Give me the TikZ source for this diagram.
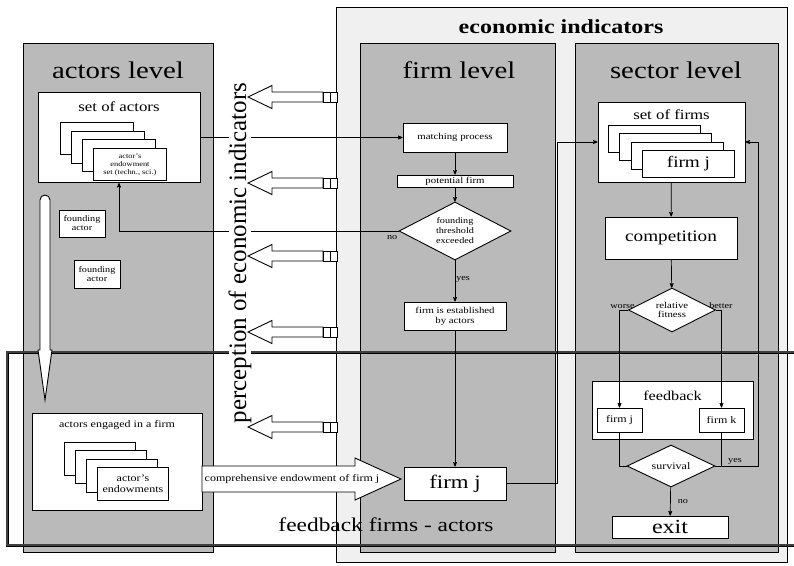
\documentclass[tikz,border=0pt]{standalone}
\usepackage{fontspec}
\setmainfont{Liberation Serif}[FakeStretch=1.2]
\newfontfamily\vertfont{Liberation Serif}
\usetikzlibrary{arrows,shapes.geometric,positioning}

\newcommand\fsz[2]{\fontsize{#1}{#2}\selectfont}

\begin{document}
\begin{tikzpicture}[x=1pt,y=-1pt,>=stealth',thick,
    level/.style={draw,line width=1pt,fill=black!27},
    flow box/.style={draw,line width=0.9pt,fill=white,inner sep=1pt,align=center},
    card/.style={flow box,anchor=north west},
    decision/.style={diamond,draw,line width=0.9pt,fill=white,inner sep=0pt,align=center,aspect=2},
    hollow/.style={draw,line width=0.9pt,fill=white},
    tag/.style={font=\fsz{8.5}{9},inner sep=1pt}]

    \useasboundingbox (0,0) rectangle (794,565);

    % economic indicators
    \draw[line width=1pt,fill=black!6] (336,7) rectangle (787,562);
    \node[font=\fsz{20}{22}\bfseries] (econ) at (561,27) {economic indicators};

    % the three levels
    \draw[level] (23,43) rectangle (213,552);
    \draw[level] (360,43) rectangle (555,552);
    \draw[level] (575,43) rectangle (778,552);
    \node[font=\fsz{24}{26}] (actlevel) at (118,70) {actors level};
    \node[font=\fsz{24}{26}] (firmlevel) at (459,70) {firm level};
    \node[font=\fsz{24}{26}] (seclevel) at (676,70) {sector level};

    % feedback firms - actors
    \draw[line width=0.9pt,double=black!75,double distance=1.2pt] (794,352) -- (7,352) -- (7,545) -- (794,545);
    \node[font=\fsz{19.5}{21}] (fbfa) at (386,525) {feedback firms - actors};

    % actors level
    \node[flow box,minimum width=162,minimum height=90] (setA) at (119,137.5) {};
    \node[font=\fsz{14}{16}] at (119,107) {set of actors};
    \foreach \i in {0,1,2}
        \node[card,minimum width=73,minimum height=32] at (60+11*\i,122+8.7*\i) {};
    \node[card,minimum width=73,minimum height=32,font=\fsz{7}{8}] (endowA) at (93,148) {actor's\\endowment\\set (techn., sci.)};

    \node[flow box,minimum width=46,minimum height=27,font=\fsz{8.5}{9}] (found1) at (82,223.5) {founding\\actor};
    \node[flow box,minimum width=46,minimum height=28,font=\fsz{8.5}{9}] (found2) at (97,274) {founding\\actor};

    \draw[hollow] (38,350) -- (40,350) [rounded corners=5pt] -- (40,195) -- (50,195) [sharp corners] -- (50,350) -- (52,350) -- (45,400) -- cycle;

    \node[flow box,minimum width=170,minimum height=97] (eng) at (117,461.5) {};
    \node[font=\fsz{10}{11}] at (117,425) {actors engaged in a firm};
    \foreach \i in {0,1,2}
        \node[card,minimum width=71,minimum height=33] at (64+11*\i,442+8.3*\i) {};
    \node[card,minimum width=71,minimum height=33,font=\fsz{10}{11}] (endowE) at (97,467) {actor's\\endowments};

    % firm level
    \node[flow box,minimum width=104,minimum height=29,font=\fsz{9}{10}] (match) at (455,137.5) {matching process};
    \node[flow box,minimum width=116,minimum height=12,inner sep=0pt,font=\fsz{9}{10}] (pot) at (455,181) {potential firm};
    \node[decision,minimum width=112,minimum height=58,font=\fsz{8.5}{10}] (thresh) at (455,231) {founding\\threshold\\exceeded};
    \node[flow box,minimum width=102,minimum height=28,font=\fsz{9}{10}] (est) at (455,316) {firm is established\\by actors};
    \node[flow box,minimum width=102,minimum height=33,font=\fsz{19}{20}] (firmj) at (455,483.5) {firm j};

    % sector level
    \node[flow box,minimum width=147,minimum height=80] (setF) at (671.5,142) {};
    \node[font=\fsz{14}{16}] at (671.5,115) {set of firms};
    \foreach \i in {0,1,2}
        \node[card,minimum width=92,minimum height=27] at (608+11.3*\i,125+8.3*\i) {};
    \node[card,minimum width=92,minimum height=27,font=\fsz{16}{17}] (firmjS) at (642,150) {firm j};

    \node[flow box,minimum width=132,minimum height=42,font=\fsz{16}{17}] (comp) at (671,238) {competition};
    \node[decision,minimum width=87,minimum height=44,font=\fsz{9}{9.5}] (rel) at (672,310) {relative\\fitness};
    \node[flow box,minimum width=161,minimum height=58] (fbk) at (672.5,410) {};
    \node[font=\fsz{13.5}{15}] at (672.5,396) {feedback};
    \node[flow box,minimum width=45,minimum height=24,font=\fsz{10}{11}] (fj) at (619.5,420) {firm j};
    \node[flow box,minimum width=45,minimum height=24,font=\fsz{10}{11}] (fk) at (721.5,420) {firm k};
    \node[decision,minimum width=88,minimum height=42,font=\fsz{10}{11}] (surv) at (671,466) {survival};
    \node[flow box,minimum width=116,minimum height=22,inner sep=0pt,font=\fsz{20}{20}] (exit) at (670,527) {exit};

    % connectors
    \path[->,line width=0.7pt]
    (setA.east) edge (match.west)
    (match) edge (pot)
    (pot) edge (thresh)
    (thresh) edge node[right,tag,pos=0.45] {yes} (est)
    (est) edge (firmj)
    (setF) edge (comp)
    (comp) edge (rel)
    (surv) edge node[right,tag,xshift=6pt] {no} (exit);

    \draw[->,line width=0.7pt] (thresh.west) node[below left,tag,yshift=-3pt] {no} -| (setA.south);
    \draw[->,line width=0.7pt] (firmj.east) -- ++(51,0) |- (setF.west);
    \draw[->,line width=0.7pt] (rel.west) node[above left,tag,xshift=8pt] {worse} -| (fj.north);
    \draw[->,line width=0.7pt] (rel.east) node[above right,tag,xshift=-8pt] {better} -| (fk.north);
    \draw[line width=0.7pt] (fj.south) |- (surv.west);
    \draw[line width=0.7pt] (fk.south) |- (surv.east);
    \draw[->,line width=0.7pt] (surv.east) -- node[above,tag,xshift=-2pt] {yes} ++(43,0) |- (setF.east);

    % comprehensive endowment
    \draw[hollow] (202,466) -- (355,466) -- (355,458) -- (401,479) -- (355,500) -- (355,492) -- (202,492) -- cycle;
    \node[font=\fsz{10}{11}] (compr) at (292,479) {comprehensive endowment of firm j};

    % perception of economic indicators
    \node[rotate=90,font=\vertfont\fsz{25}{27},fill=white,inner sep=0pt] (percep) at (240,253) {perception of economic indicators};
    \foreach \y in {97,183,256,332,427} {
        \draw[hollow] (248,\y) -- (272,\y-11.5) -- (272,\y-5) -- (323,\y-5) -- (323,\y+5) -- (272,\y+5) -- (272,\y+11.5) -- cycle;
        \draw[hollow] (323,\y-5) rectangle (330,\y+5);
        \draw[hollow] (330,\y-5) rectangle (337,\y+5);
    }
\end{tikzpicture}
\end{document}
